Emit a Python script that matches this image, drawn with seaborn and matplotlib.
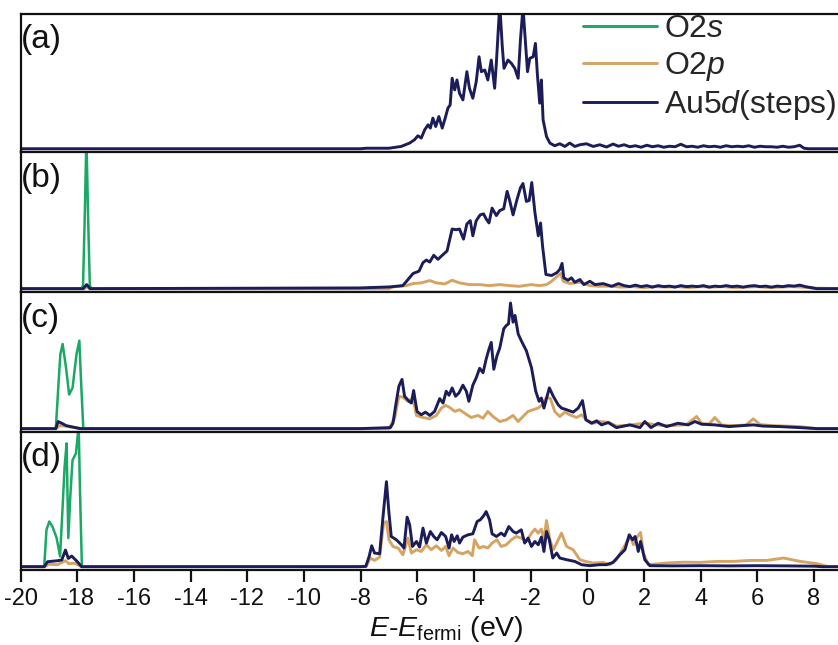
import matplotlib
matplotlib.use("Agg")
import matplotlib.pyplot as plt
import seaborn as sns

sns.set_theme(style="ticks")
plt.rcParams["font.family"] = ["Liberation Sans", "DejaVu Sans"]
plt.rcParams["mathtext.fontset"] = "custom"
plt.rcParams["mathtext.rm"] = "Liberation Sans"
plt.rcParams["mathtext.it"] = "Liberation Sans:italic"

# ---------------- data (energy in eV, PDOS in arbitrary units) ----------------
# (a) clean stepped surface
a_au_e = [-20.0, -8.0, -7.8, -7.0, -6.57, -6.27, -6.10, -5.98, -5.86, -5.74, -5.62, -5.54, -5.45,
          -5.35, -5.24, -5.12, -5.00, -4.92, -4.84, -4.77, -4.68, -4.60, -4.51, -4.39, -4.25, -4.16,
          -4.04, -3.92, -3.82, -3.74, -3.62, -3.51, -3.39, -3.27, -3.21, -3.09, -3.00, -2.94, -2.80,
          -2.68, -2.56, -2.44, -2.36, -2.27, -2.18, -2.11, -2.03, -1.91, -1.83, -1.76, -1.68, -1.62,
          -1.56, -1.44, -1.32, -1.15, -0.97, -0.79, -0.62, -0.44, -0.26, -0.03, 0.21, 0.44, 0.68,
          0.91, 1.1, 1.3, 1.5, 1.7, 1.9, 2.1, 2.3, 2.5, 2.7, 2.9, 3.1, 3.3, 3.5, 3.7, 3.9, 4.1, 4.3,
          4.5, 4.7, 4.9, 5.1, 5.3, 5.5, 5.7, 5.9, 6.1, 6.3, 6.5, 6.7, 6.9, 7.1, 7.3, 7.5, 7.65, 7.8,
          8.9]
a_au_v = [0.0, 0.0, 0.05, 0.05, 0.23, 0.57, 0.90, 1.30, 1.07, 1.90, 2.40, 2.07, 3.07,
          2.23, 3.23, 2.07, 3.23, 4.07, 4.40, 7.07, 5.90, 6.90, 5.57, 4.90, 7.73, 6.07,
          5.07, 6.73, 9.23, 7.73, 7.90, 6.90, 8.90, 6.07, 8.57, 14.5, 10.23, 8.07, 8.90,
          8.57, 8.07, 7.07, 10.90, 14.2, 10.57, 7.73, 9.07, 9.23, 10.57, 7.40, 4.57, 6.90,
          2.90, 1.23, 0.57, 0.30, 0.50, 0.23, 0.57, 0.23, 0.40, 0.50, 0.23, 0.40, 0.17,
          0.47, 0.25, 0.40, 0.20, 0.30, 0.15, 0.35, 0.20, 0.30, 0.15, 0.25, 0.20, 0.45, 0.20,
          0.25, 0.15, 0.30, 0.20, 0.25, 0.15, 0.30, 0.20, 0.25, 0.20, 0.30, 0.15, 0.25, 0.20,
          0.20, 0.15, 0.25, 0.15, 0.20, 0.35, 0.05, 0.0, 0.0]

# (b) adsorbed atomic O
b_o2s_e = [-20.0, -17.86, -17.80, -17.74, -17.68, -17.62, -17.56, -17.50, -16.0]
b_o2s_v = [0.0, 0.0, 0.3, 7.0, 15.0, 7.0, 0.3, 0.0, 0.0]
b_o2p_e = [-20.0, -17.75, -17.67, -17.58, -7.0, -6.86, -6.39, -6.15, -5.86, -5.56, -5.33, -5.03,
           -4.77, -4.51, -4.16, -3.80, -3.45, -3.09, -2.74, -2.39, -1.98, -1.68, -1.44, -1.26,
           -1.08, -0.94, -0.85, -0.62, -0.26, 0.09, 0.44, 0.8, 1.2, 1.6, 2.0, 2.4, 2.8, 3.2, 3.6,
           4.0, 4.4, 4.8, 5.2, 5.6, 6.0, 6.4, 6.8, 7.2, 7.6, 8.0, 8.9]
b_o2p_v = [0.0, 0.0, 0.2, 0.0, 0.0, 0.17, 0.30, 0.50, 0.57, 0.80, 0.57, 0.47,
           0.83, 0.57, 0.40, 0.40, 0.30, 0.40, 0.30, 0.23, 0.40, 0.30, 0.40, 0.73,
           1.17, 1.50, 0.73, 0.50, 0.63, 0.30, 0.23, 0.25, 0.15, 0.2, 0.1, 0.2, 0.15, 0.2, 0.1,
           0.2, 0.15, 0.2, 0.1, 0.15, 0.2, 0.1, 0.15, 0.2, 0.15, 0.05, 0.0]
b_au_e = [-20.0, -17.80, -17.67, -17.55, -8.04, -6.98, -6.51, -6.33, -6.15, -5.94, -5.80, -5.68,
          -5.56, -5.42, -5.27, -5.12, -4.95, -4.77, -4.63, -4.51, -4.37, -4.25, -4.13, -4.04,
          -3.92, -3.78, -3.66, -3.57, -3.47, -3.36, -3.21, -3.09, -2.95, -2.83, -2.74, -2.62,
          -2.48, -2.36, -2.27, -2.15, -2.05, -1.96, -1.85, -1.73, -1.65, -1.58, -1.46, -1.26,
          -1.08, -0.97, -0.89, -0.83, -0.68, -0.56, -0.44, -0.26, -0.12, 0.09, 0.27, 0.56, 0.86,
          1.1, 1.3, 1.5, 1.7, 1.9, 2.1, 2.3, 2.5, 2.7, 2.9, 3.1, 3.3, 3.5, 3.7, 3.9, 4.1, 4.3,
          4.5, 4.7, 4.9, 5.1, 5.3, 5.5, 5.7, 5.9, 6.1, 6.3, 6.5, 6.7, 6.9, 7.1, 7.3, 7.5, 7.7,
          7.9, 8.1, 8.9]
b_au_v = [0.0, 0.0, 0.4, 0.0, 0.07, 0.17, 0.30, 0.90, 1.50, 1.73, 2.57, 2.83,
          2.63, 3.30, 2.90, 3.30, 3.73, 5.90, 5.83, 5.90, 4.90, 6.40, 6.73, 5.23,
          6.73, 7.30, 7.40, 6.90, 6.50, 7.97, 7.23, 7.73, 7.90, 9.63, 8.73, 7.30,
          8.83, 9.97, 10.40, 8.63, 8.73, 10.50, 7.57, 5.23, 6.50, 4.23, 1.40, 1.30,
          1.57, 1.90, 2.50, 1.07, 0.83, 1.07, 0.63, 0.90, 0.40, 0.73, 0.40, 0.50, 0.23,
          0.50, 0.30, 0.20, 0.35, 0.20, 0.30, 0.15, 0.30, 0.20, 0.25, 0.15, 0.30, 0.20, 0.25,
          0.20, 0.30, 0.15, 0.25, 0.20, 0.30, 0.20, 0.25, 0.15, 0.25, 0.30, 0.20, 0.25, 0.15,
          0.25, 0.20, 0.30, 0.25, 0.35, 0.20, 0.10, 0.0, 0.0]

# (c) adsorbed O2, first configuration
c_o2s_e = [-20.0, -18.76, -18.66, -18.60, -18.52, -18.40, -18.29, -18.17, -18.03, -17.93,
           -17.87, -17.79, -16.0]
c_o2s_v = [0.0, 0.03, 4.70, 7.37, 8.37, 6.03, 3.37, 4.03, 7.37, 8.70, 4.70, 0.0, 0.0]
c_o2p_e = [-20.0, -18.75, -18.62, -18.45, -18.1, -17.85, -7.0, -6.80, -6.65, -6.51, -6.33,
           -6.15, -6.03, -5.80, -5.56, -5.33, -5.15, -5.00, -4.86, -4.68, -4.51, -4.33, -4.10,
           -3.86, -3.68, -3.51, -3.33, -3.09, -2.86, -2.62, -2.44, -2.27, -2.09, -1.91, -1.74,
           -1.58, -1.44, -1.30, -1.15, -0.97, -0.79, -0.62, -0.38, -0.20, -0.03, 0.21, 0.44,
           0.74, 1.03, 1.5, 2.03, 2.5, 3.0, 3.5, 3.86, 4.04, 4.3, 4.5, 4.75, 5.2, 5.6, 5.86,
           6.1, 6.5, 7.0, 7.5, 8.1, 8.9]
c_o2p_v = [0.0, 0.0, 0.3, 0.25, 0.1, 0.0, 0.0, 1.03, 3.20, 3.10, 2.70,
           3.03, 1.30, 1.10, 0.97, 1.30, 2.03, 2.30, 2.10, 1.70, 1.87, 1.53, 1.10,
           1.30, 1.03, 1.70, 1.20, 0.70, 0.87, 1.30, 0.70, 1.20, 1.70, 1.87, 2.03,
           2.37, 3.10, 2.97, 1.70, 1.20, 1.63, 1.37, 1.10, 1.37, 0.87, 0.53, 0.70,
           0.63, 0.25, 0.35, 0.55, 0.35, 0.30, 0.40, 1.20, 0.50, 0.45, 1.10, 0.35, 0.30, 0.35, 0.97,
           0.40, 0.30, 0.25, 0.20, 0.0, 0.0]
c_au_e = [-20.0, -18.76, -18.68, -18.55, -18.40, -17.9, -8.0, -6.95, -6.86, -6.74, -6.65, -6.54,
          -6.45, -6.29, -6.21, -6.13, -6.01, -5.86, -5.71, -5.56, -5.39, -5.21, -5.09, -4.98,
          -4.88, -4.77, -4.65, -4.53, -4.39, -4.27, -4.18, -4.04, -3.92, -3.80, -3.68, -3.57,
          -3.47, -3.39, -3.30, -3.19, -3.09, -2.95, -2.86, -2.78, -2.71, -2.62, -2.55, -2.44,
          -2.33, -2.15, -1.97, -1.82, -1.70, -1.62, -1.53, -1.34, -1.20, -1.03, -0.91, -0.73,
          -0.50, -0.32, -0.17, -0.05, 0.15, 0.33, 0.50, 0.74, 1.03, 1.5, 1.86, 2.03, 2.25, 2.5,
          2.8, 3.2, 3.56, 3.8, 4.04, 4.5, 5.0, 5.5, 5.86, 6.2, 6.8, 7.51, 8.1, 8.9]
c_au_v = [0.0, 0.0, 0.70, 0.53, 0.30, 0.0, 0.0, 0.10, 0.53, 2.70, 4.20, 4.87,
          3.20, 2.70, 2.53, 3.77, 1.70, 1.37, 1.63, 1.30, 1.70, 2.97, 2.53, 3.70,
          3.30, 4.03, 3.20, 3.53, 4.30, 3.70, 2.70, 4.30, 5.03, 5.97, 5.53, 6.87,
          7.87, 8.53, 5.87, 7.20, 7.97, 9.87, 10.20, 10.37, 12.43, 10.53, 11.20, 9.37,
          8.70, 7.70, 6.03, 3.70, 2.70, 3.03, 2.03, 4.03, 3.20, 2.37, 2.03, 1.87,
          1.63, 2.03, 2.77, 0.87, 0.53, 0.77, 0.37, 0.60, 0.10, 0.37, 0.10, 0.70, 0.10, 0.53,
          0.20, 0.53, 0.37, 0.70, 0.43, 0.37, 0.20, 0.30, 0.37, 0.25, 0.20, 0.10, 0.0, 0.0]

# (d) adsorbed O2, second configuration
d_o2s_e = [-20.0, -19.17, -19.09, -18.99, -18.88, -18.73, -18.61, -18.52, -18.45, -18.38,
           -18.32, -18.25, -18.17, -18.05, -17.98, -17.95, -17.91, -17.84, -16.0]
d_o2s_v = [0.0, 0.03, 3.70, 4.53, 4.03, 2.87, 1.03, 6.03, 10.03, 12.37,
           2.87, 7.03, 10.70, 11.37, 13.37, 13.7, 8.03, 0.0, 0.0]
d_o2p_e = [-20.0, -19.15, -19.0, -18.7, -18.42, -18.3, -18.1, -17.85, -7.80, -7.66, -7.51,
           -7.33, -7.19, -7.09, -7.00, -6.86, -6.68, -6.51, -6.33, -6.21, -6.03, -5.86, -5.68,
           -5.51, -5.33, -5.15, -5.00, -4.88, -4.74, -4.57, -4.39, -4.21, -4.06, -3.98, -3.82,
           -3.66, -3.51, -3.36, -3.19, -3.04, -2.86, -2.68, -2.51, -2.33, -2.15, -1.97, -1.85,
           -1.73, -1.62, -1.53, -1.44, -1.32, -1.20, -1.08, -0.91, -0.73, -0.50, -0.26, -0.03,
           0.21, 0.56, 0.80, 1.03, 1.51, 1.63, 1.77, 1.88, 1.98, 2.15, 2.80, 3.4, 3.98, 4.57,
           5.16, 5.75, 6.34, 6.93, 7.52, 8.11, 8.46, 8.9]
d_o2p_v = [0.0, 0.0, 0.25, 0.2, 0.6, 0.3, 0.35, 0.0, 0.03, 0.87, 0.63,
           0.97, 4.37, 4.53, 2.70, 2.03, 1.87, 1.20, 2.87, 1.37, 1.70, 1.53, 2.20,
           1.70, 2.10, 1.63, 2.03, 1.10, 1.87, 1.43, 1.30, 1.53, 1.10, 2.70, 1.87,
           2.03, 1.87, 2.37, 2.70, 2.03, 2.20, 2.70, 3.03, 2.87, 2.53, 3.37, 3.77,
           3.37, 3.77, 2.70, 4.63, 2.70, 1.70, 2.37, 3.37, 2.03, 1.70, 0.70, 0.50,
           0.37, 0.43, 0.20, 0.70, 3.03, 2.20, 3.03, 3.43, 1.37, 0.20, 0.37, 0.45, 0.43, 0.53,
           0.53, 0.63, 0.63, 0.87, 0.53, 0.30, 0.03, 0.0]
d_au_e = [-20.0, -19.17, -19.05, -18.7, -18.55, -18.42, -18.32, -18.2, -18.0, -17.85, -8.04,
          -7.82, -7.70, -7.61, -7.51, -7.33, -7.21, -7.09, -7.00, -6.92, -6.74, -6.56, -6.47,
          -6.36, -6.27, -6.17, -6.03, -5.92, -5.80, -5.68, -5.54, -5.42, -5.30, -5.15, -5.00,
          -4.88, -4.79, -4.70, -4.59, -4.51, -4.39, -4.21, -4.04, -3.89, -3.78, -3.66, -3.57,
          -3.45, -3.36, -3.21, -3.04, -2.92, -2.77, -2.62, -2.51, -2.33, -2.21, -2.09, -1.97,
          -1.85, -1.73, -1.62, -1.53, -1.44, -1.34, -1.22, -1.08, -0.97, -0.73, -0.44, -0.20,
          0.09, 0.44, 0.68, 0.91, 1.15, 1.33, 1.48, 1.60, 1.69, 1.80, 1.88, 2.03, 2.21, 3.0,
          4.0, 5.0, 6.0, 7.0, 8.0, 8.3, 8.9]
d_au_v = [0.0, 0.0, 0.5, 0.6, 0.67, 1.67, 0.83, 1.07, 0.5, 0.0, 0.0,
          0.03, 1.03, 2.10, 1.37, 1.30, 5.03, 8.53, 5.37, 3.03, 2.70, 2.20, 1.87,
          4.97, 4.20, 2.03, 2.53, 1.97, 3.87, 2.37, 3.53, 3.03, 2.70, 3.43, 3.03,
          1.87, 3.20, 2.53, 3.10, 2.37, 2.97, 3.20, 3.30, 4.53, 4.70, 5.10, 5.53,
          4.70, 3.30, 3.03, 3.37, 3.10, 4.03, 3.53, 3.37, 3.70, 2.37, 2.87, 2.03,
          2.53, 2.20, 2.97, 1.53, 3.53, 2.70, 0.87, 1.37, 0.87, 0.70, 0.53, 0.20,
          0.10, 0.20, 0.20, 0.43, 1.20, 1.70, 3.20, 2.70, 3.03, 1.53, 2.53, 0.70, 0.10, 0.08,
          0.10, 0.08, 0.10, 0.08, 0.05, 0.0, 0.0]

panels = [
    ("(a)", [], [], a_au_e, a_au_v, [], []),
    ("(b)", b_o2s_e, b_o2s_v, b_au_e, b_au_v, b_o2p_e, b_o2p_v),
    ("(c)", c_o2s_e, c_o2s_v, c_au_e, c_au_v, c_o2p_e, c_o2p_v),
    ("(d)", d_o2s_e, d_o2s_v, d_au_e, d_au_v, d_o2p_e, d_o2p_v),
]

series_names = ["O2$\\mathit{s}$", "O2$\\mathit{p}$", "Au5$\\mathit{d}$(steps)"]
series_colors = ["#1aa865", "#d6a462", "#1c1d58"]
x_ticks = [-20, -18, -16, -14, -12, -10, -8, -6, -4, -2, 0, 2, 4, 6, 8]

# ---------------- figure ----------------
fig = plt.figure(figsize=(8.38, 6.45), dpi=100)
left = 0.0247
boxes = [(0.764, 0.214), (0.547, 0.217), (0.330, 0.217), (0.116, 0.214)]

axes = []
for (label, s_e, s_v, au_e, au_v, p_e, p_v), (bot, h) in zip(panels, boxes):
    ax = fig.add_axes([left, bot, 1.0 - left, h])
    axes.append(ax)
    if s_e:
        sns.lineplot(x=s_e, y=s_v, ax=ax, color=series_colors[0], lw=1.8,
                     estimator=None, sort=False)
    if p_e:
        sns.lineplot(x=p_e, y=p_v, ax=ax, color=series_colors[1], lw=2.1,
                     estimator=None, sort=False)
    sns.lineplot(x=au_e, y=au_v, ax=ax, color=series_colors[2], lw=2.1,
                 estimator=None, sort=False)
    ax.set_xlim(-20, 8.85)
    ax.set_ylim(-0.35, 13.5)
    ax.set_yticks([])
    ax.set_ylabel("")
    ax.set_xlabel("")
    for side in ("left", "top", "bottom"):
        ax.spines[side].set_linewidth(1.6)
        ax.spines[side].set_color("#111111")
    ax.spines["right"].set_visible(False)
    ax.text(0.0, 0.815, label, transform=ax.transAxes, fontsize=24,
            ha="left", va="center", color="#111111")
    if label != "(d)":
        ax.set_xticks([])

bottom_ax = axes[-1]
bottom_ax.set_xticks(x_ticks)
bottom_ax.set_xticklabels([str(t) for t in x_ticks])
bottom_ax.tick_params(axis="x", direction="out", length=8.5, width=1.6,
                      labelsize=17, pad=4, colors="#111111")

fig.text(446 / 838, 1 - 629 / 645, "$\\mathit{E}$-$\\mathit{E}_{\\mathrm{fermi}}$ (eV)",
         fontsize=20.5, ha="center", va="center", color="#111111")

# legend in the top panel
handles = [plt.Line2D([], [], color=c, lw=2.1) for c in series_colors]
axes[0].legend(handles, series_names, loc="upper left",
               bbox_to_anchor=(583 / 838, 1 - 14 / 645), bbox_transform=fig.transFigure,
               frameon=False, fontsize=23, handlelength=2.32, handletextpad=0.2,
               labelspacing=0.18, borderaxespad=0.0, borderpad=0.0)

fig.savefig("out.png", dpi=100)
